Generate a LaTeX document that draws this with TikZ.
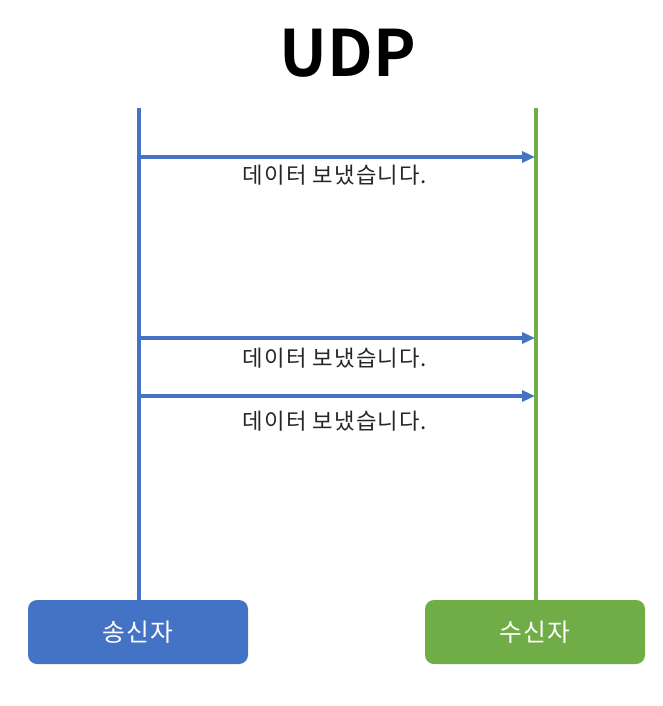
\documentclass[tikz,border=0pt]{standalone}
\usepackage{fontspec}
\setmainfont{Noto Sans CJK KR}
\newfontfamily\krbold{Noto Sans CJK KR Bold}
\newfontfamily\krwide[LetterSpace=5]{Noto Sans CJK KR}
\usetikzlibrary{arrows.meta}
\definecolor{sblue}{HTML}{4472C4}
\definecolor{sgreen}{HTML}{70AD47}
\tikzset{
  lifeline/.style={line width=4pt},
  msg/.style={draw=sblue, line width=3.2pt, -{Triangle[length=13pt,width=11pt]}},
  msglabel/.style={font=\krwide\fontsize{22.3}{26}\selectfont, text=black!85, inner sep=0pt},
  actor/.style={rounded corners=9pt, minimum width=220pt, minimum height=64pt, text=white,
    font=\krwide\fontsize{24.8}{28}\selectfont, inner sep=0pt},
}
\begin{document}
\begin{tikzpicture}[x=1pt,y=-1pt]
\useasboundingbox (0,0) rectangle (662,706);
\node[font=\krbold\fontsize{64}{68}\selectfont, inner sep=0pt] (title) at (348,53) {UDP};
\node[actor, fill=sblue] (snd) at (138,632) {\raisebox{-1pt}{송신자}};
\node[actor, fill=sgreen] (rcv) at (535,632) {\raisebox{-1pt}{수신자}};
\coordinate (stop) at (139,108);
\coordinate (rtop) at (536,108);
\draw[lifeline, sblue] (stop) -- (snd.north -| stop);
\draw[lifeline, sgreen] (rtop) -- (rcv.north -| rtop);
\foreach \y/\n in {157/a,338/b,396/c}{
  \coordinate (s\n) at (139,\y);
  \coordinate (r\n) at (535,\y);
  \draw[msg] (s\n) -- (r\n);
}
\node[msglabel] (la) at (335,175) {데이터 보냈습니다.};
\node[msglabel] (lb) at (335,358) {데이터 보냈습니다.};
\node[msglabel] (lc) at (335,421) {데이터 보냈습니다.};
\end{tikzpicture}
\end{document}
